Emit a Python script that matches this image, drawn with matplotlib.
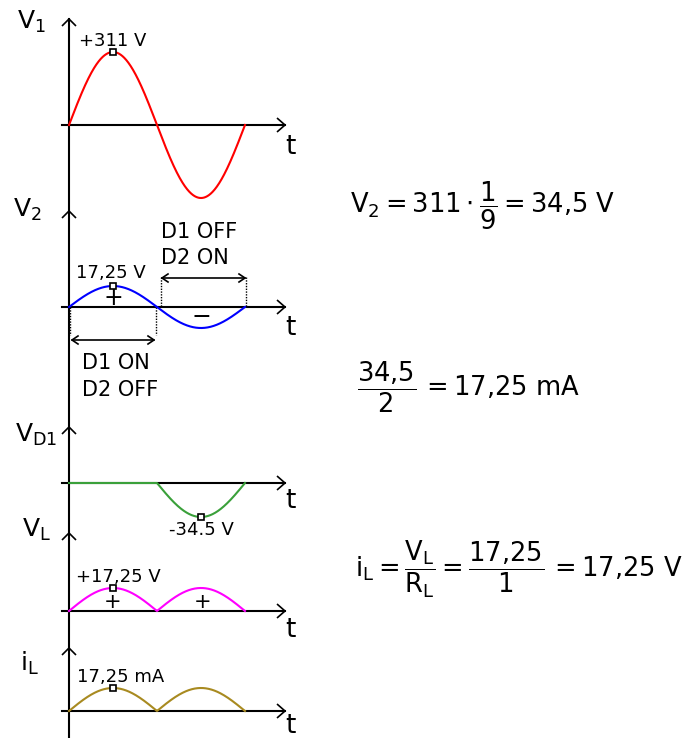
import numpy as np
import matplotlib
matplotlib.use('Agg')
import matplotlib.pyplot as plt

plt.rcParams['font.family'] = ['DejaVu Sans']
plt.rcParams['mathtext.default'] = 'regular'

W, H = 691, 738

# --- data: one period of the mains (ms) and the peak of each trace ---
PERIOD_MS = 20.0
signal_names = ['$V_1$', '$V_2$', '$V_{D1}$', '$V_L$', '$i_L$']
amplitudes = [311.0, 17.25, 34.5, 17.25, 17.25]
wave_kinds = ['sine', 'sine', 'neg_half', 'rectified', 'rectified']
wave_colors = ['#ff0000', '#0000ff', '#3aa03a', '#ff00ff', '#a88a20']
peak_times = [5.0, 5.0, 15.0, 5.0, 5.0]
peak_signs = [1, 1, -1, 1, 1]
peak_labels = ['+311 V', '17,25 V', '-34.5 V', '+17,25 V', '17,25 mA']

# --- layout (pixels of the 691x738 picture) ---
AXIS_X = 69
PX_PER_MS = 8.8
X_LEFT, X_RIGHT = 62, 285
baseline_px = [125, 307, 483, 611, 711]
amp_px = [73, 21, 34, 23, 23]
top_px = [19, 211, 427, 533, 648]
t_offset = [22, 21, 18, 19, 15]
name_pos = [(17, 22), (13, 210), (15, 435), (22, 530), (20, 663)]
label_dx = [-34, -37, 0, -37, -36]
label_dy = [11, 13, -13, 11, 11]
label_ha = ['left', 'left', 'center', 'left', 'left']


def waveform(kind, amp, t):
    s = amp * np.sin(2 * np.pi * t / PERIOD_MS)
    if kind == 'neg_half':
        return np.minimum(s, 0)
    if kind == 'rectified':
        return np.abs(s)
    return s


fig = plt.figure(figsize=(W / 100, H / 100), dpi=100)

# overlay in pixel coordinates for axes, arrows and text
ov = fig.add_axes([0, 0, 1, 1])
ov.set_xlim(0, W)
ov.set_ylim(H, 0)
ov.axis('off')

LW = 1.5


def chevron_up(x, y, w=7, h=7):
    ov.plot([x - w, x, x + w], [y + h, y, y + h], color='k', lw=1.2, solid_capstyle='butt')


def chevron_right(x, y, w=7, h=8):
    ov.plot([x - h, x, x - h], [y - w, y, y + w], color='k', lw=1.2, solid_capstyle='butt')


def double_arrow(x0, x1, y):
    ov.plot([x0, x1], [y, y], color='k', lw=1.2)
    ov.plot([x0 + 6, x0, x0 + 6], [y - 4, y, y + 4], color='k', lw=1.2)
    ov.plot([x1 - 6, x1, x1 - 6], [y - 4, y, y + 4], color='k', lw=1.2)


# shared vertical axis
ov.plot([AXIS_X, AXIS_X], [top_px[0], H], color='k', lw=LW)
for i in range(len(signal_names)):
    chevron_up(AXIS_X, top_px[i])
    y0 = baseline_px[i]
    ov.plot([X_LEFT, X_RIGHT], [y0, y0], color='k', lw=LW)
    chevron_right(X_RIGHT, y0)
    ov.text(290, y0 + t_offset[i], 't', fontsize=19, ha='center', va='center')
    nx, ny = name_pos[i]
    ov.text(nx, ny, signal_names[i], fontsize=18, ha='left', va='center')

# V2 panel annotations
dot = dict(color='k', lw=1, linestyle=(0, (1, 1)))
ov.plot([70, 70], [307, 335], **dot)
ov.plot([156, 156], [307, 335], **dot)
ov.plot([161, 161], [277, 307], **dot)
ov.plot([246, 246], [277, 307], **dot)
double_arrow(72, 154, 340)
double_arrow(162, 245, 278)
ov.text(161, 232, 'D1 OFF', fontsize=15, ha='left', va='center')
ov.text(161, 258, 'D2 ON', fontsize=15, ha='left', va='center')
ov.text(82, 363, 'D1 ON', fontsize=15, ha='left', va='center')
ov.text(82, 390, 'D2 OFF', fontsize=15, ha='left', va='center')
ov.text(113, 298, '+', fontsize=17, ha='center', va='center')
ov.text(201, 317, '\u2212', fontsize=17, ha='center', va='center')
# VL panel signs
ov.text(113, 602, '+', fontsize=15, ha='center', va='center')
ov.text(203, 602, '+', fontsize=15, ha='center', va='center')

# formulas on the right
ov.text(350, 206, r'$V_2 = 311\cdot\dfrac{1}{9} = 34{,}5\ V$', fontsize=18.5,
        ha='left', va='center')
ov.text(357, 387, r'$\dfrac{34{,}5}{2}\, =17{,}25\ mA$', fontsize=18.5,
        ha='left', va='center')
ov.text(355, 569, r'$i_L = \dfrac{V_L}{R_L} = \dfrac{17{,}25}{1}\, =17{,}25\ V$',
        fontsize=18.5, ha='left', va='center')

# the traces, one small axes per panel, zero on the panel baseline
t = np.linspace(0, PERIOD_MS, 600)
t_min = (X_LEFT - AXIS_X) / PX_PER_MS
t_max = (X_RIGHT - AXIS_X) / PX_PER_MS
for i in range(len(signal_names)):
    s = amp_px[i] / amplitudes[i]
    y0, yt = baseline_px[i], top_px[i]
    yb = y0 + 45
    ax = fig.add_axes([X_LEFT / W, 1 - yb / H, (X_RIGHT - X_LEFT) / W, (yb - yt) / H])
    ax.set_xlim(t_min, t_max)
    ax.set_ylim(-(yb - y0) / s, (y0 - yt) / s)
    ax.axis('off')
    ax.plot(t, waveform(wave_kinds[i], amplitudes[i], t), color=wave_colors[i], lw=LW,
            clip_on=False)
    pv = peak_signs[i] * amplitudes[i]
    ax.plot([peak_times[i]], [pv], 's', ms=4, mfc='white', mec='black', mew=1.2,
            clip_on=False)
    ax.annotate(peak_labels[i], (peak_times[i], pv), xytext=(label_dx[i], label_dy[i]),
                textcoords='offset pixels', ha=label_ha[i], va='center', fontsize=13)

fig.savefig('out.png', dpi=100)
